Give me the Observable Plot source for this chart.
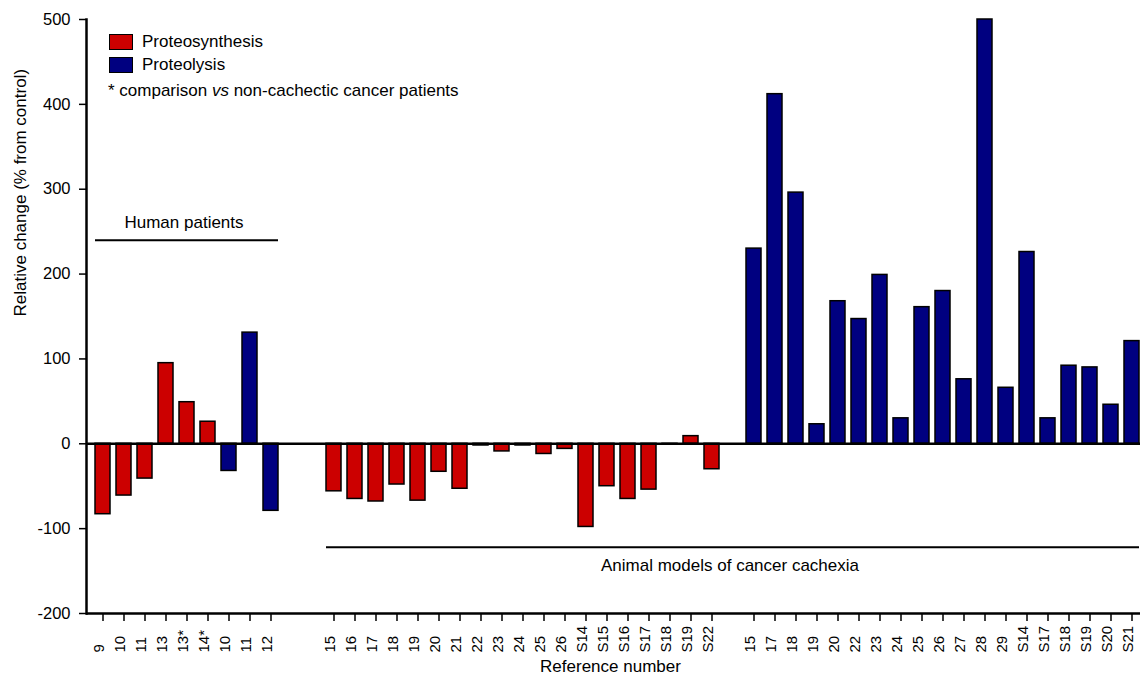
<!DOCTYPE html>
<html>
<head>
<meta charset="utf-8">
<script src="https://cdn.jsdelivr.net/npm/d3@7"></script>
<script src="https://cdn.jsdelivr.net/npm/@observablehq/plot@0.6"></script>
<style>
  html, body { margin: 0; padding: 0; background: #fff; }
  body { font-family: "Liberation Sans", Arial, Helvetica, sans-serif; }
  #wrap { position: relative; width: 1140px; height: 677px; }
  #legend { position: absolute; left: 109px; top: 31px; font-size: 17px; color: #000; }
  .row { display: flex; align-items: center; height: 22.5px; }
  .sw { width: 22px; height: 14px; border: 1.5px solid #000; margin-right: 9px; }
  .note { margin-top: 4px; margin-left: -1px; height: 22.5px; line-height: 22.5px; }
</style>
</head>
<body>
<div id="wrap">
  <div id="chart"></div>
  <div id="legend"></div>
</div>
<script>
// ---- Data ----
const seriesNames = ["Proteosynthesis", "Proteolysis"];
const seriesColors = ["#cc0000", "#000080"];

const humanLabels = ["9", "10", "11", "13", "13*", "14*", "10", "11", "12"];
const humanValues = [-83, -61, -41, 95, 49, 26, -32, 131, -79];
const humanTypes  = ["Proteosynthesis", "Proteosynthesis", "Proteosynthesis", "Proteosynthesis", "Proteosynthesis", "Proteosynthesis", "Proteolysis", "Proteolysis", "Proteolysis"];

const synthLabels = ["15", "16", "17", "18", "19", "20", "21", "22", "23", "24", "25", "26", "S14", "S15", "S16", "S17", "S18", "S19", "S22"];
const synthValues = [-56, -65, -68, -48, -67, -33, -53, -2, -9, -2, -12, -6, -98, -50, -65, -54, -1, 9, -30];

const lysisLabels = ["15", "17", "18", "19", "20", "22", "23", "24", "25", "26", "27", "28", "29", "S14", "S17", "S18", "S19", "S20", "S21"];
const lysisValues = [230, 412, 296, 23, 168, 147, 199, 30, 161, 180, 76, 500, 66, 226, 30, 92, 90, 46, 121];

const yTicks = [-200, -100, 0, 100, 200, 300, 400, 500];

const groupLabels = ["Human patients", "Animal models of cancer cachexia"];
const groupLineValues = [240, -122];
const groupTextValues = [261, -144];

const yLabel = "Relative change (% from control)";
const xLabel = "Reference number";
const footnote = "* comparison <i>vs</i> non-cachectic cancer patients";

// ---- Table ----
const human = humanLabels.map((l, i) => ({key: "h" + i, label: l, value: humanValues[i], type: humanTypes[i]}));
const synth = synthLabels.map((l, i) => ({key: "s" + i, label: l, value: synthValues[i], type: "Proteosynthesis"}));
const lysis = lysisLabels.map((l, i) => ({key: "l" + i, label: l, value: lysisValues[i], type: "Proteolysis"}));
const rows = [...human, ...synth, ...lysis];
const domain = [...human.map(d => d.key), "gap1", "gap2", ...synth.map(d => d.key), "gap3", ...lysis.map(d => d.key)];

const groups = [
  {x1: human[0].key, x2: human[human.length - 1].key, y: groupLineValues[0], ty: groupTextValues[0], tx: human[4].key, text: groupLabels[0]},
  {x1: synth[0].key, x2: lysis[lysis.length - 1].key, y: groupLineValues[1], ty: groupTextValues[1], tx: "gap3", text: groupLabels[1]}
];

const font = "Liberation Sans, Arial, Helvetica, sans-serif";

const chart = Plot.plot({
  width: 1140,
  height: 677,
  marginLeft: 86,
  marginRight: 0,
  marginTop: 19,
  marginBottom: 64,
  style: {fontFamily: font, background: "#fff", color: "#000"},
  x: {type: "band", domain, range: [86, 1147], paddingInner: 0.29, paddingOuter: 0.357},
  y: {domain: [-200, 500]},
  color: {domain: seriesNames, range: seriesColors},
  marks: [
    Plot.barY(rows, {x: "key", y: "value", fill: "type", stroke: "#000", strokeWidth: 1.5}),
    Plot.ruleY([0], {stroke: "#000", strokeWidth: 2.5}),
    Plot.ruleY([-200], {stroke: "#000", strokeWidth: 2.5}),
    Plot.frame({anchor: "left", stroke: "#000", strokeWidth: 2.5}),
    Plot.axisY({ticks: yTicks, tickSize: 7, tickPadding: 9, fontSize: 16.5, strokeWidth: 1.5, label: null, tickFormat: d => String(d)}),
    Plot.axisX({ticks: rows.map(d => d.key), tickSize: 8, tickFormat: () => "", strokeWidth: 1.5, label: null}),
    Plot.text(rows, {x: "key", text: "label", frameAnchor: "bottom", rotate: -90, textAnchor: "start", dy: 39, dx: 1, fontSize: 15}),
    Plot.ruleY(groups, {x1: "x1", x2: "x2", y: "y", stroke: "#000", strokeWidth: 2}),
    Plot.text(groups, {x: "tx", y: "ty", text: "text", fontSize: 17, dx: -3}),
    Plot.text([yLabel], {text: d => d, frameAnchor: "left", rotate: -90, dx: -66, fontSize: 17}),
    Plot.text([xLabel], {text: d => d, frameAnchor: "bottom", dy: 58, fontSize: 17, dx: -3})
  ]
});
document.getElementById("chart").appendChild(chart);

const legend = document.getElementById("legend");
seriesNames.forEach((n, i) => {
  const r = document.createElement("div");
  r.className = "row";
  r.innerHTML = `<div class="sw" style="background:${seriesColors[i]}"></div><span>${n}</span>`;
  legend.appendChild(r);
});
const note = document.createElement("div");
note.className = "note";
note.innerHTML = footnote;
legend.appendChild(note);
</script>
</body>
</html>
